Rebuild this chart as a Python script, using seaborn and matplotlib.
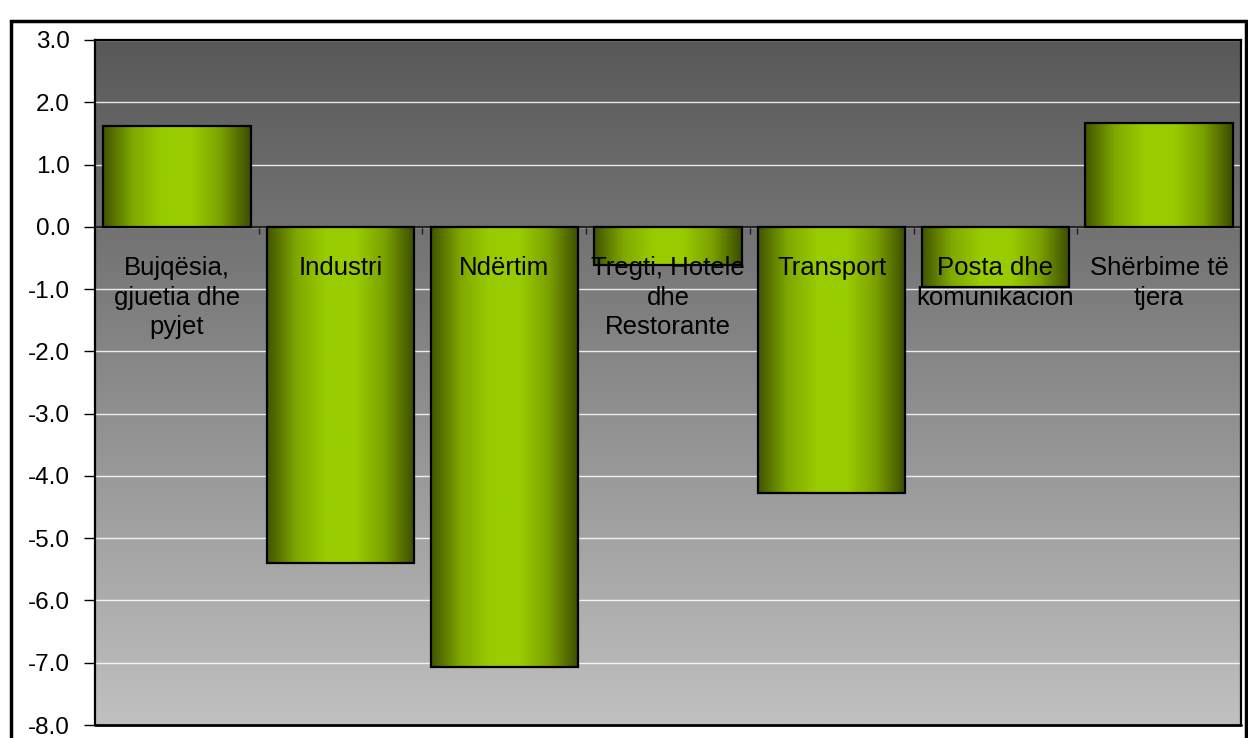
import numpy as np
import matplotlib
matplotlib.use("Agg")
import matplotlib.pyplot as plt
from matplotlib.colors import LinearSegmentedColormap
from matplotlib.patches import Rectangle
import seaborn as sns

# Të dhënat (lexuar nga grafiku)
sektoret = ["Bujqësia,\ngjuetia dhe\npyjet",
            "Industri",
            "Ndërtim",
            "Tregti, Hotele\ndhe\nRestorante",
            "Transport",
            "Posta dhe\nkomunikacion",
            "Shërbime të\ntjera"]
ndryshimi = [1.62, -5.40, -7.07, -0.62, -4.28, -0.97, 1.66]
y_ticks = [3.0, 2.0, 1.0, 0.0, -1.0, -2.0, -3.0, -4.0, -5.0, -6.0, -7.0, -8.0]

sns.set_style("white")
plt.rcParams['font.family'] = ['Liberation Sans', 'DejaVu Sans']

fig = plt.figure(figsize=(12.48, 7.38), dpi=100)
ax = fig.add_axes([95/1248, 1 - 725/738, (1241-95)/1248, (725-40)/738])

# sfondi me gradient vertikal
sfond = LinearSegmentedColormap.from_list(
    "sfond", [(0.0, "#c0c0c0"), (8/11, "#727272"), (1.0, "#595959")])
grad = np.linspace(0, 1, 256).reshape(-1, 1)
ax.imshow(grad, cmap=sfond, origin="lower", aspect="auto",
          extent=[0, 1, 0, 1], transform=ax.transAxes, zorder=0)

sns.barplot(x=list(range(len(sektoret))), y=ndryshimi, color="#99cc00",
            width=0.9, edgecolor="black", linewidth=1.6, ax=ax, zorder=3)

# gradient horizontal brenda shtyllave
jeshile = LinearSegmentedColormap.from_list(
    "jeshile", ["#425400", "#7fa800", "#99cc00", "#99cc00", "#7aa000", "#3c4c00"])
hgrad = np.linspace(0, 1, 256).reshape(1, -1)
for p in ax.patches:
    x0, y0, w, h = p.get_x(), p.get_y(), p.get_width(), p.get_height()
    im = ax.imshow(hgrad, cmap=jeshile, aspect="auto",
                   extent=[x0, x0 + w, min(y0, y0 + h), max(y0, y0 + h)],
                   zorder=3.5)
    im.set_clip_path(p)
    p.set_facecolor("none")
    p.set_zorder(4)

ax.set_xlim(-0.5, len(sektoret) - 0.5)
ax.set_ylim(-8, 3)
ax.set_yticks(y_ticks)
ax.set_yticklabels([f"{v:.1f}" for v in y_ticks], fontsize=17.5, color="black")
ax.yaxis.grid(True, color="white", linewidth=1, alpha=0.85, zorder=1)
ax.set_axisbelow(True)
ax.tick_params(axis="y", direction="out", length=8, width=1, color="black",
               pad=10, left=True)

# boshti x te vlera 0 me shenja mes kategorive
ax.spines["bottom"].set_position(("data", 0))
ax.spines["bottom"].set_linewidth(1.5)
ax.spines["bottom"].set_zorder(2)
ax.set_xticks(np.arange(0.5, len(sektoret) - 1, 1.0))
ax.set_xticklabels([])
ax.tick_params(axis="x", direction="out", length=5, width=1, color="#222222",
               bottom=True)
ax.axhline(-8, color="black", linewidth=2, clip_on=False, zorder=6)
for s in ["left", "top", "right"]:
    ax.spines[s].set_color("black")
    ax.spines[s].set_linewidth(1.6)
ax.set_xlabel("")

for i, lab in enumerate(sektoret):
    ax.text(i, -0.47, lab, ha="center", va="top", fontsize=18.5,
            linespacing=1.3, color="black", zorder=6)

# korniza e jashtme
fig.patches.append(Rectangle((11/1248, -0.05), (1246 - 11)/1248, 1.05 - 21/738,
                             transform=fig.transFigure, fill=False,
                             edgecolor="black", linewidth=2.5))

fig.savefig("out.png", dpi=100)
